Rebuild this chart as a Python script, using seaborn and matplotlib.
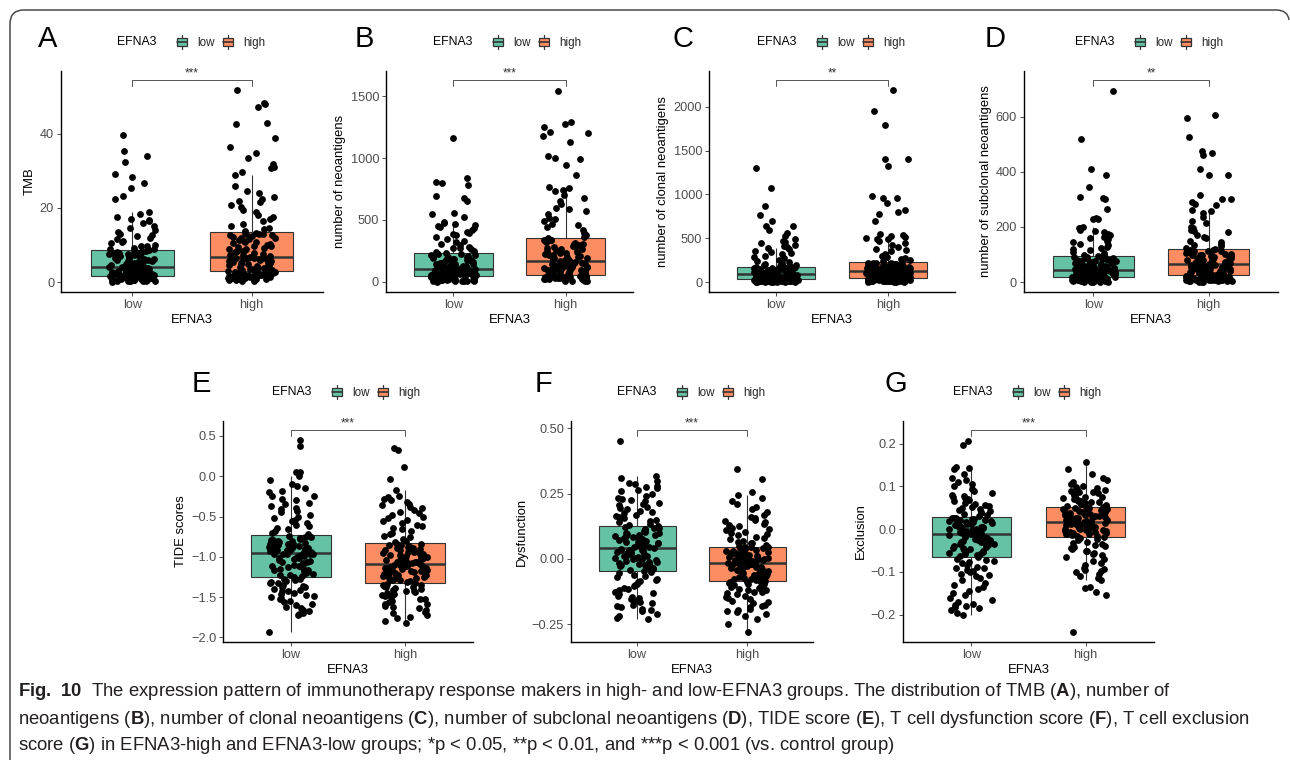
import numpy as np
import pandas as pd
import matplotlib
matplotlib.use("Agg")
import matplotlib.pyplot as plt
import seaborn as sns
from matplotlib.patches import Rectangle, PathPatch, Patch
from matplotlib.path import Path
from matplotlib.lines import Line2D
from matplotlib.legend_handler import HandlerBase
from matplotlib.transforms import IdentityTransform
from matplotlib import font_manager

# ---------------- data ----------------
groups = ["low", "high"]
group_colors = ["#66C2A5", "#FC8D62"]
hue_name = "EFNA3"

tmb_low = [0.1, 0.2, 0.3, 0.3, 0.4, 0.5, 0.5, 0.6, 0.7, 0.8, 0.8, 0.9, 1.0, 1.1, 1.1, 1.2, 1.3, 1.4, 1.5, 1.6,
           1.7, 1.8, 1.9, 2.0, 2.1, 2.2, 2.4, 2.5, 2.6, 2.7, 2.9, 3.0, 3.1, 3.3, 3.4, 3.5, 3.7, 3.8, 3.9, 4.0,
           4.2, 4.4, 4.6, 4.9, 5.1, 5.3, 5.6, 5.8, 6.0, 6.3, 6.5, 6.8, 7.0, 7.2, 7.5, 7.7, 7.9, 8.1, 8.3, 8.5,
           9.0, 9.8, 10.5, 11.2, 12.4, 13.0, 14.1, 15.0, 16.6, 17.0, 19.0, 22.5, 23.2, 25.3, 26.8, 28.3, 29.1, 32.3, 35.3, 39.8,
           0.15, 0.25, 0.35, 0.45, 0.55, 0.65, 0.75, 0.85, 0.95, 1.05, 1.15, 1.25, 1.35, 1.45, 1.55,
           1.75, 1.85, 2.05, 2.3, 2.45, 2.65, 2.8, 3.05, 3.2, 3.45, 3.6, 3.75, 3.85, 3.95, 4.05,
           4.3, 4.7, 5.0, 5.4, 5.9, 6.2, 6.6, 6.9, 7.3, 7.6, 7.8, 8.0, 8.2, 8.4, 8.6,
           8.8, 9.3, 9.6, 10.0, 10.8, 11.5, 12.0, 12.8, 13.6, 14.5, 16.0, 16.8, 17.5, 18.4, 34.0]
tmb_high = [0.3, 0.5, 0.6, 0.8, 0.9, 1.0, 1.1, 1.2, 1.3, 1.5, 1.6, 1.7, 1.8, 1.9, 2.0, 2.2, 2.3, 2.5, 2.6, 2.7,
            2.9, 3.1, 3.3, 3.5, 3.8, 4.0, 4.2, 4.4, 4.7, 4.9, 5.1, 5.3, 5.6, 5.8, 6.0, 6.2, 6.4, 6.5, 6.6, 6.7,
            6.9, 7.2, 7.6, 8.0, 8.3, 8.7, 9.0, 9.4, 9.8, 10.1, 10.5, 10.9, 11.3, 11.6, 12.0, 12.3, 12.6, 12.9, 13.1, 13.3,
            14.2, 15.1, 16.4, 17.5, 18.8, 20.2, 21.5, 22.3, 24.0, 28.9, 31.0, 32.0, 33.5, 34.8, 36.6, 38.8, 43.0, 47.2, 48.3, 52.0,
            0.4, 0.7, 0.85, 1.05, 1.25, 1.4, 1.55, 1.75, 1.95, 2.1, 2.25, 2.4, 2.55, 2.65, 2.75,
            3.0, 3.2, 3.6, 3.9, 4.1, 4.5, 4.8, 5.2, 5.5, 5.9, 6.1, 6.3, 6.45, 6.55, 6.75,
            7.0, 7.4, 7.8, 8.5, 8.9, 9.2, 9.6, 10.3, 10.7, 11.1, 11.8, 12.2, 12.8, 13.0, 13.2,
            13.8, 14.6, 15.6, 16.9, 18.2, 19.5, 20.8, 21.9, 23.0, 24.5, 26.0, 29.6, 30.8, 42.8, 48.0]

neo_low = [3, 5, 8, 10, 12, 14, 16, 18, 20, 22, 25, 27, 29, 31, 34, 36, 39, 42, 45, 47,
           50, 53, 56, 59, 62, 65, 68, 71, 74, 77, 80, 83, 86, 89, 92, 95, 98, 100, 102, 104,
           108, 113, 119, 125, 131, 138, 145, 152, 160, 167, 174, 182, 190, 198, 205, 212, 218, 222, 226, 230,
           250, 275, 300, 330, 360, 395, 420, 450, 470, 480, 525, 545, 555, 650, 680, 690, 780, 800, 840, 1165,
           4, 6, 9, 11, 13, 15, 17, 19, 21, 24, 26, 30, 33, 38, 44,
           51, 55, 58, 63, 67, 70, 75, 79, 84, 88, 91, 94, 97, 101, 103,
           110, 116, 122, 128, 135, 141, 148, 156, 163, 171, 178, 186, 194, 202, 215,
           240, 262, 285, 310, 345, 380, 405, 435, 460, 475, 440, 390, 320, 270, 810]
neo_high = [5, 8, 12, 15, 18, 21, 24, 27, 30, 33, 36, 38, 40, 43, 45, 47, 49, 51, 53, 55,
            60, 66, 72, 79, 86, 93, 100, 107, 114, 120, 127, 133, 139, 145, 150, 155, 159, 163, 166, 168,
            172, 180, 190, 200, 210, 220, 230, 240, 250, 262, 274, 286, 298, 308, 318, 328, 336, 342, 347, 351,
            380, 420, 470, 510, 575, 590, 650, 700, 730, 760, 860, 940, 990, 1020, 1130, 1200, 1210, 1275, 1290, 1540,
            7, 10, 14, 17, 20, 23, 26, 29, 32, 35, 39, 42, 46, 50, 54,
            63, 69, 76, 83, 90, 97, 104, 111, 117, 124, 130, 136, 142, 148, 157,
            176, 185, 195, 205, 215, 225, 235, 245, 256, 268, 280, 292, 303, 323, 340,
            365, 395, 440, 460, 490, 520, 545, 600, 625, 680, 745, 770, 1000, 1180, 1250]

clonal_low = [2, 3, 4, 5, 6, 7, 8, 9, 10, 11, 12, 14, 16, 18, 20, 22, 24, 26, 28, 30,
              33, 36, 39, 42, 45, 48, 51, 54, 57, 60, 63, 66, 69, 72, 75, 78, 81, 84, 86, 87,
              90, 94, 98, 102, 106, 110, 114, 118, 122, 126, 131, 136, 141, 146, 151, 156, 161, 166, 170, 174,
              185, 200, 220, 245, 270, 300, 330, 360, 385, 410, 450, 470, 530, 560, 640, 700, 770, 870, 1075, 1300,
              2, 3, 4, 5, 6, 8, 10, 12, 15, 17, 19, 21, 23, 25, 29,
              34, 38, 41, 44, 47, 50, 53, 56, 61, 65, 70, 74, 79, 83, 85,
              92, 96, 100, 104, 108, 112, 116, 120, 128, 134, 139, 148, 154, 163, 172,
              180, 190, 210, 230, 255, 285, 315, 345, 375, 400, 420, 460, 490, 640, 600]
clonal_high = [2, 4, 6, 8, 10, 12, 14, 16, 18, 20, 22, 24, 26, 28, 30, 32, 35, 37, 39, 41,
               45, 50, 55, 60, 65, 70, 75, 80, 85, 90, 95, 100, 104, 108, 112, 115, 118, 121, 123, 125,
               128, 133, 138, 143, 148, 153, 158, 163, 168, 173, 178, 183, 188, 194, 200, 206, 212, 217, 221, 224,
               260, 300, 350, 400, 450, 490, 510, 550, 700, 780, 800, 820, 900, 960, 980, 1320, 1410, 1790, 1950, 2190,
               3, 5, 7, 9, 11, 13, 15, 17, 19, 21, 25, 29, 33, 36, 40,
               48, 53, 58, 63, 68, 73, 78, 83, 88, 93, 98, 102, 110, 117, 122,
               130, 135, 140, 146, 151, 156, 161, 166, 171, 176, 181, 186, 197, 209, 219,
               240, 270, 320, 370, 420, 470, 495, 500, 525, 540, 380, 290, 250, 960, 1400]

subclonal_low = [1, 2, 2, 3, 4, 5, 5, 6, 7, 8, 9, 10, 11, 12, 12, 13, 14, 15, 16, 17,
                 18, 19, 21, 22, 24, 25, 27, 28, 30, 31, 33, 34, 36, 37, 39, 40, 41, 42, 43, 43,
                 45, 47, 50, 52, 55, 57, 60, 62, 65, 67, 70, 72, 75, 77, 80, 83, 86, 88, 91, 93,
                 100, 110, 122, 135, 150, 160, 175, 185, 195, 200, 228, 232, 265, 305, 308, 345, 388, 410, 520, 695,
                 1, 2, 3, 4, 4, 6, 7, 8, 9, 10, 11, 13, 14, 15, 16,
                 18, 20, 23, 24, 26, 29, 30, 32, 35, 36, 38, 40, 41, 42, 43,
                 46, 49, 51, 54, 56, 59, 63, 66, 69, 73, 76, 79, 84, 87, 92,
                 98, 105, 115, 128, 140, 155, 170, 180, 190, 198, 120, 145, 165, 230, 300]
subclonal_high = [1, 2, 3, 4, 5, 6, 7, 8, 9, 10, 11, 12, 13, 15, 16, 18, 19, 20, 22, 23,
                  26, 28, 30, 32, 34, 36, 38, 40, 42, 44, 46, 48, 50, 52, 54, 56, 58, 60, 62, 64,
                  67, 70, 73, 76, 79, 82, 85, 88, 91, 94, 97, 100, 103, 106, 109, 112, 114, 116, 118, 119,
                  130, 145, 160, 180, 195, 215, 235, 258, 285, 290, 300, 315, 390, 390, 410, 460, 470, 525, 595, 605,
                  2, 3, 4, 5, 6, 8, 9, 11, 12, 14, 15, 17, 19, 21, 22,
                  25, 27, 29, 31, 35, 37, 41, 43, 47, 49, 53, 55, 59, 61, 63,
                  68, 71, 74, 78, 81, 84, 87, 90, 95, 98, 102, 105, 110, 113, 117,
                  125, 135, 150, 170, 185, 200, 220, 250, 260, 140, 165, 190, 280, 300, 475]

tide_low = [-1.93, -1.72, -1.70, -1.67, -1.63, -1.60, -1.56, -1.52, -1.50, -1.48, -1.45, -1.42, -1.40, -1.38, -1.36, -1.33, -1.31, -1.30, -1.28, -1.27,
            -1.25, -1.23, -1.21, -1.19, -1.17, -1.15, -1.13, -1.11, -1.09, -1.08, -1.06, -1.05, -1.03, -1.02, -1.00, -0.99, -0.98, -0.97, -0.96, -0.96,
            -0.94, -0.93, -0.92, -0.91, -0.90, -0.89, -0.88, -0.87, -0.86, -0.85, -0.84, -0.83, -0.82, -0.81, -0.80, -0.79, -0.77, -0.76, -0.75, -0.74,
            -0.70, -0.66, -0.62, -0.58, -0.54, -0.50, -0.45, -0.41, -0.37, -0.33, -0.28, -0.24, -0.20, -0.15, -0.10, -0.05, 0.00, 0.05, 0.38, 0.45,
            -1.71, -1.66, -1.62, -1.58, -1.55, -1.51, -1.49, -1.46, -1.43, -1.41, -1.37, -1.35, -1.32, -1.29, -1.27,
            -1.24, -1.22, -1.20, -1.18, -1.16, -1.14, -1.12, -1.10, -1.07, -1.04, -1.01, -0.99, -0.98, -0.97, -0.96,
            -0.945, -0.935, -0.925, -0.915, -0.905, -0.895, -0.885, -0.87, -0.855, -0.835, -0.815, -0.795, -0.78, -0.765, -0.745,
            -0.72, -0.68, -0.64, -0.60, -0.56, -0.52, -0.48, -0.43, -0.39, -0.35, -0.30, -0.25, -0.18, -0.12, 0.05]
tide_high = [-1.82, -1.80, -1.76, -1.72, -1.68, -1.64, -1.61, -1.58, -1.55, -1.52, -1.50, -1.48, -1.46, -1.44, -1.42, -1.40, -1.38, -1.36, -1.35, -1.34,
             -1.32, -1.30, -1.29, -1.27, -1.26, -1.24, -1.23, -1.21, -1.20, -1.18, -1.17, -1.16, -1.15, -1.14, -1.13, -1.12, -1.11, -1.10, -1.10, -1.09,
             -1.08, -1.07, -1.06, -1.05, -1.03, -1.02, -1.01, -1.00, -0.98, -0.97, -0.96, -0.94, -0.93, -0.92, -0.90, -0.89, -0.88, -0.86, -0.85, -0.84,
             -0.80, -0.76, -0.72, -0.68, -0.64, -0.60, -0.56, -0.52, -0.48, -0.44, -0.40, -0.36, -0.32, -0.28, -0.24, -0.17, -0.03, 0.12, 0.32, 0.35,
             -1.75, -1.70, -1.66, -1.62, -1.59, -1.56, -1.53, -1.49, -1.47, -1.45, -1.43, -1.41, -1.39, -1.37, -1.345,
             -1.31, -1.285, -1.265, -1.245, -1.225, -1.205, -1.19, -1.175, -1.16, -1.145, -1.135, -1.125, -1.115, -1.105, -1.095,
             -1.075, -1.065, -1.055, -1.04, -1.025, -1.01, -0.99, -0.975, -0.955, -0.935, -0.915, -0.895, -0.875, -0.855, -0.835,
             -0.82, -0.78, -0.74, -0.70, -0.66, -0.62, -0.58, -0.54, -0.50, -0.46, -0.42, -0.38, -0.34, -0.30, -0.26]

dysf_low = [-0.227, -0.22, -0.20, -0.19, -0.18, -0.17, -0.16, -0.15, -0.14, -0.13, -0.12, -0.11, -0.10, -0.095, -0.09, -0.08, -0.07, -0.065, -0.06, -0.05,
            -0.045, -0.04, -0.035, -0.03, -0.025, -0.02, -0.015, -0.01, -0.005, 0.0, 0.005, 0.01, 0.015, 0.02, 0.025, 0.028, 0.031, 0.034, 0.036, 0.038,
            0.042, 0.046, 0.05, 0.055, 0.06, 0.064, 0.068, 0.072, 0.077, 0.082, 0.086, 0.09, 0.095, 0.10, 0.105, 0.11, 0.114, 0.118, 0.122, 0.126,
            0.13, 0.14, 0.15, 0.16, 0.17, 0.18, 0.19, 0.20, 0.21, 0.22, 0.23, 0.24, 0.25, 0.26, 0.27, 0.28, 0.29, 0.30, 0.317, 0.45,
            -0.23, -0.21, -0.195, -0.185, -0.175, -0.165, -0.155, -0.145, -0.135, -0.125, -0.115, -0.105, -0.085, -0.075, -0.055,
            -0.042, -0.037, -0.032, -0.027, -0.022, -0.017, -0.012, -0.007, -0.002, 0.003, 0.008, 0.013, 0.018, 0.023, 0.033,
            0.044, 0.048, 0.053, 0.058, 0.062, 0.066, 0.07, 0.075, 0.08, 0.084, 0.088, 0.093, 0.098, 0.108, 0.12,
            0.135, 0.145, 0.155, 0.165, 0.175, 0.185, 0.195, 0.205, 0.215, 0.225, 0.235, 0.265, 0.275, 0.285, 0.31]
dysf_high = [-0.278, -0.25, -0.23, -0.21, -0.20, -0.19, -0.18, -0.17, -0.16, -0.15, -0.14, -0.13, -0.125, -0.12, -0.115, -0.11, -0.10, -0.095, -0.09, -0.088,
             -0.085, -0.08, -0.076, -0.072, -0.068, -0.064, -0.06, -0.056, -0.052, -0.048, -0.044, -0.04, -0.036, -0.032, -0.029, -0.026, -0.023, -0.021, -0.019, -0.018,
             -0.015, -0.012, -0.009, -0.006, -0.003, 0.0, 0.004, 0.008, 0.012, 0.016, 0.02, 0.024, 0.028, 0.032, 0.035, 0.038, 0.041, 0.043, 0.045, 0.046,
             0.05, 0.06, 0.07, 0.08, 0.09, 0.10, 0.11, 0.12, 0.13, 0.14, 0.15, 0.16, 0.18, 0.19, 0.20, 0.22, 0.245, 0.255, 0.305, 0.345,
             -0.22, -0.205, -0.195, -0.185, -0.175, -0.165, -0.155, -0.145, -0.135, -0.128, -0.118, -0.108, -0.102, -0.097, -0.092,
             -0.083, -0.078, -0.074, -0.07, -0.066, -0.062, -0.058, -0.054, -0.05, -0.046, -0.042, -0.038, -0.034, -0.027, -0.02,
             -0.014, -0.011, -0.007, -0.004, -0.001, 0.002, 0.006, 0.01, 0.014, 0.018, 0.022, 0.026, 0.03, 0.036, 0.044,
             0.055, 0.065, 0.075, 0.085, 0.095, 0.105, 0.115, 0.125, 0.135, 0.145, 0.155, 0.17, 0.21, 0.235, 0.062]

excl_low = [-0.20, -0.19, -0.185, -0.18, -0.175, -0.17, -0.16, -0.15, -0.14, -0.13, -0.12, -0.11, -0.105, -0.10, -0.095, -0.09, -0.085, -0.08, -0.075, -0.07,
            -0.064, -0.06, -0.057, -0.054, -0.05, -0.047, -0.044, -0.04, -0.037, -0.034, -0.031, -0.028, -0.025, -0.022, -0.02, -0.018, -0.016, -0.014, -0.013, -0.012,
            -0.01, -0.008, -0.006, -0.004, -0.002, 0.0, 0.002, 0.004, 0.006, 0.008, 0.01, 0.012, 0.014, 0.016, 0.018, 0.02, 0.022, 0.024, 0.025, 0.026,
            0.03, 0.035, 0.04, 0.045, 0.05, 0.055, 0.06, 0.065, 0.07, 0.075, 0.08, 0.09, 0.10, 0.11, 0.12, 0.14, 0.143, 0.145, 0.197, 0.207,
            -0.195, -0.182, -0.178, -0.165, -0.155, -0.145, -0.135, -0.125, -0.115, -0.108, -0.098, -0.092, -0.088, -0.078, -0.072,
            -0.062, -0.058, -0.055, -0.052, -0.048, -0.045, -0.042, -0.038, -0.035, -0.03, -0.026, -0.023, -0.019, -0.015, -0.0115,
            -0.009, -0.007, -0.005, -0.003, -0.001, 0.001, 0.003, 0.005, 0.009, 0.013, 0.017, 0.019, 0.021, 0.023, 0.0265,
            0.032, 0.037, 0.042, 0.047, 0.052, 0.057, 0.062, 0.068, 0.072, 0.078, 0.085, 0.095, 0.105, 0.115, 0.13]
excl_high = [-0.24, -0.155, -0.148, -0.137, -0.135, -0.119, -0.11, -0.10, -0.095, -0.09, -0.08, -0.07, -0.06, -0.055, -0.05, -0.045, -0.04, -0.035, -0.03, -0.022,
             -0.018, -0.015, -0.012, -0.01, -0.008, -0.006, -0.004, -0.002, 0.0, 0.002, 0.004, 0.005, 0.007, 0.008, 0.01, 0.011, 0.012, 0.013, 0.014, 0.015,
             0.017, 0.019, 0.021, 0.023, 0.025, 0.027, 0.029, 0.031, 0.033, 0.035, 0.037, 0.039, 0.041, 0.043, 0.045, 0.047, 0.048, 0.05, 0.051, 0.052,
             0.055, 0.058, 0.061, 0.064, 0.067, 0.07, 0.073, 0.076, 0.08, 0.084, 0.088, 0.092, 0.096, 0.10, 0.105, 0.11, 0.12, 0.13, 0.14, 0.158,
             -0.115, -0.105, -0.098, -0.093, -0.085, -0.075, -0.065, -0.058, -0.052, -0.047, -0.042, -0.037, -0.032, -0.026, -0.02,
             -0.017, -0.014, -0.011, -0.009, -0.007, -0.005, -0.003, -0.001, 0.001, 0.003, 0.006, 0.009, 0.0105, 0.0125, 0.0145,
             0.018, 0.02, 0.022, 0.024, 0.026, 0.028, 0.03, 0.032, 0.034, 0.036, 0.038, 0.04, 0.042, 0.046, 0.049,
             0.054, 0.057, 0.06, 0.063, 0.066, 0.069, 0.072, 0.075, 0.078, 0.082, 0.086, 0.09, 0.094, 0.098, 0.115]

panel_letters = ["A", "B", "C", "D", "E", "F", "G"]
y_labels = ["TMB", "number of neoantigens", "number of clonal neoantigens",
            "number of subclonal neoantigens", "TIDE scores", "Dysfunction", "Exclusion"]
significance = ["***", "***", "**", "**", "***", "***", "***"]
low_values = [tmb_low, neo_low, clonal_low, subclonal_low, tide_low, dysf_low, excl_low]
high_values = [tmb_high, neo_high, clonal_high, subclonal_high, tide_high, dysf_high, excl_high]
y_ticks = [[0, 20, 40], [0, 500, 1000, 1500], [0, 500, 1000, 1500, 2000], [0, 200, 400, 600],
           [-2.0, -1.5, -1.0, -0.5, 0.0, 0.5], [-0.25, 0.0, 0.25, 0.5], [-0.2, -0.1, 0.0, 0.1, 0.2]]
y_tick_labels = [["0", "20", "40"], ["0", "500", "1000", "1500"], ["0", "500", "1000", "1500", "2000"],
                 ["0", "200", "400", "600"], ["\u22122.0", "\u22121.5", "\u22121.0", "\u22120.5", "0.0", "0.5"],
                 ["\u22120.25", "0.00", "0.25", "0.50"], ["\u22120.2", "\u22120.1", "0.0", "0.1", "0.2"]]
y_limits = [(-2.7, 57), (-81, 1702), (-114, 2411), (-36, 766), (-2.058, 0.686), (-0.318, 0.528), (-0.264, 0.253)]

caption_lines = [
    r"$\mathbf{Fig.\ 10}$  The expression pattern of immunotherapy response makers in high- and low-EFNA3 groups. The distribution of TMB ($\mathbf{A}$), number of",
    r"neoantigens ($\mathbf{B}$), number of clonal neoantigens ($\mathbf{C}$), number of subclonal neoantigens ($\mathbf{D}$), TIDE score ($\mathbf{E}$), T cell dysfunction score ($\mathbf{F}$), T cell exclusion",
    r"score ($\mathbf{G}$) in EFNA3-high and EFNA3-low groups; *p < 0.05, **p < 0.01, and ***p < 0.001 (vs. control group)",
]

# ---------------- layout (pixels in a 1290x763 figure) ----------------
W, H = 1290, 763
axes_px = [(61, 71, 323, 292), (386, 71, 633, 292), (709, 71, 955, 292), (1024, 71, 1278, 292),
           (223, 421, 473, 642), (571, 421, 813, 642), (903, 421, 1154, 642)]
letter_x = [38, 355, 673, 985, 192, 535, 885]
legend_x = [117, 433, 757, 1075, 272, 617, 953]
row_letter_y = [39, 39, 39, 39, 384, 384, 384]
row_legend_y = [42, 42, 42, 42, 392, 392, 392]

sns.set_theme(style="ticks")
plt.rcParams["font.family"] = ["Liberation Sans", "DejaVu Sans"]
plt.rcParams["mathtext.fontset"] = "custom"
plt.rcParams["mathtext.rm"] = "Liberation Sans"
plt.rcParams["mathtext.bf"] = "Liberation Sans:bold"
plt.rcParams["axes.unicode_minus"] = True

fig = plt.figure(figsize=(W / 100, H / 100), dpi=100)
fig.patch.set_facecolor("white")

line_col = "#333333"


class BoxKey(HandlerBase):
    def create_artists(self, legend, orig_handle, xdescent, ydescent, width, height, fontsize, trans):
        fc = orig_handle.get_facecolor()
        x0, y0 = -xdescent, -ydescent
        bw = width
        bx = x0
        rect = Rectangle((bx, y0 + height * 0.22), bw, height * 0.56, facecolor=fc,
                         edgecolor=line_col, lw=0.9, transform=trans)
        med = Line2D([bx, bx + bw], [y0 + height * 0.5] * 2, color=line_col, lw=1.2, transform=trans)
        cx = x0 + width / 2
        wt = Line2D([cx, cx], [y0 + height * 0.78, y0 + height * 1.0], color=line_col, lw=0.9, transform=trans)
        wb = Line2D([cx, cx], [y0, y0 + height * 0.22], color=line_col, lw=0.9, transform=trans)
        return [rect, med, wt, wb]


np.random.seed(7)
for i in range(7):
    l, t, r, b = axes_px[i]
    ax = fig.add_axes([l / W, 1 - b / H, (r - l) / W, (b - t) / H])
    df = pd.DataFrame({
        hue_name: ["low"] * len(low_values[i]) + ["high"] * len(high_values[i]),
        "value": list(low_values[i]) + list(high_values[i]),
    })
    sns.boxplot(data=df, x=hue_name, y="value", hue=hue_name, order=groups, hue_order=groups,
                palette=group_colors, width=0.7, showfliers=False, linewidth=0.8, linecolor=line_col,
                medianprops={"linewidth": 1.8}, showcaps=False, saturation=1, legend=False, ax=ax)
    sns.stripplot(data=df, x=hue_name, y="value", order=groups, color="black", jitter=0.2,
                  size=4.9, linewidth=0, ax=ax, zorder=3)
    ax.set_xlim(-0.6, 1.6)
    ax.set_ylim(*y_limits[i])
    ax.set_yticks(y_ticks[i])
    ax.set_yticklabels(y_tick_labels[i])
    ax.set_xlabel("EFNA3", fontsize=9.4, color="black", labelpad=2.5)
    ax.set_ylabel(y_labels[i], fontsize=9.4, color="black", labelpad=3)
    ax.tick_params(axis="both", length=2.75, width=0.6, color=line_col, labelsize=9.2,
                   labelcolor="#4D4D4D", pad=2.2)
    for s in ["top", "right"]:
        ax.spines[s].set_visible(False)
    for s in ["left", "bottom"]:
        ax.spines[s].set_linewidth(1.0)
        ax.spines[s].set_color("black")
    ax.set_facecolor("white")

    # significance bracket
    tr = ax.get_xaxis_transform()
    ax.plot([0, 0, 1, 1], [0.932, 0.959, 0.959, 0.932], color="#555555", lw=0.7, transform=tr,
            clip_on=False)
    ax.text(0.5, 0.962, significance[i], transform=tr, ha="center", va="bottom", fontsize=8.5,
            color="#333333")

    # panel letter
    fig.text(letter_x[i] / W, 1 - row_letter_y[i] / H, panel_letters[i], fontsize=21,
             ha="left", va="center", color="black")
    # legend
    fig.text(legend_x[i] / W, 1 - row_legend_y[i] / H, hue_name, fontsize=8.8,
             ha="left", va="center", color="black")
    handles = [Patch(facecolor=c) for c in group_colors]
    fig.legend(handles, groups, handler_map={Patch: BoxKey()}, loc="center left",
               bbox_to_anchor=((legend_x[i] + 60) / W, 1 - row_legend_y[i] / H),
               bbox_transform=fig.transFigure, ncol=2, frameon=False, fontsize=8.4,
               handlelength=0.85, handleheight=1.5, handletextpad=0.9, columnspacing=0.7,
               borderpad=0, borderaxespad=0)

# caption
available = {f.name for f in font_manager.fontManager.ttflist}
cap_family = ["Liberation Sans Narrow", "Liberation Sans"] if "Liberation Sans Narrow" in available else ["Liberation Sans"]
caption_y = [692, 719, 745]
cap_texts = []
for line, yy in zip(caption_lines, caption_y):
    cap_texts.append(fig.text(18 / W, 1 - yy / H, line, fontsize=12, family=cap_family,
                              ha="left", va="center", color="#231F20"))
fig.canvas.draw()
renderer = fig.canvas.get_renderer()
w2 = cap_texts[1].get_window_extent(renderer).width
scale = (1245 - 18) / w2
for tx in cap_texts:
    tx.set_fontsize(12 * scale)

# open frame: left side and top edge with rounded corners (display pixels, y up)
def py(y):
    return H - y

frame_verts = [(10, py(760)), (10, py(24)), (10, py(10)), (24, py(10)),
               (1276, py(10)), (1288, py(10)), (1289, py(20))]
frame_codes = [Path.MOVETO, Path.LINETO, Path.CURVE3, Path.CURVE3,
               Path.LINETO, Path.CURVE3, Path.CURVE3]
frame = PathPatch(Path(frame_verts, frame_codes), transform=IdentityTransform(),
                  facecolor="none", edgecolor="#4a4a4a", linewidth=1.1)
fig.patches.append(frame)

fig.savefig("out.png", dpi=100, facecolor="white")
